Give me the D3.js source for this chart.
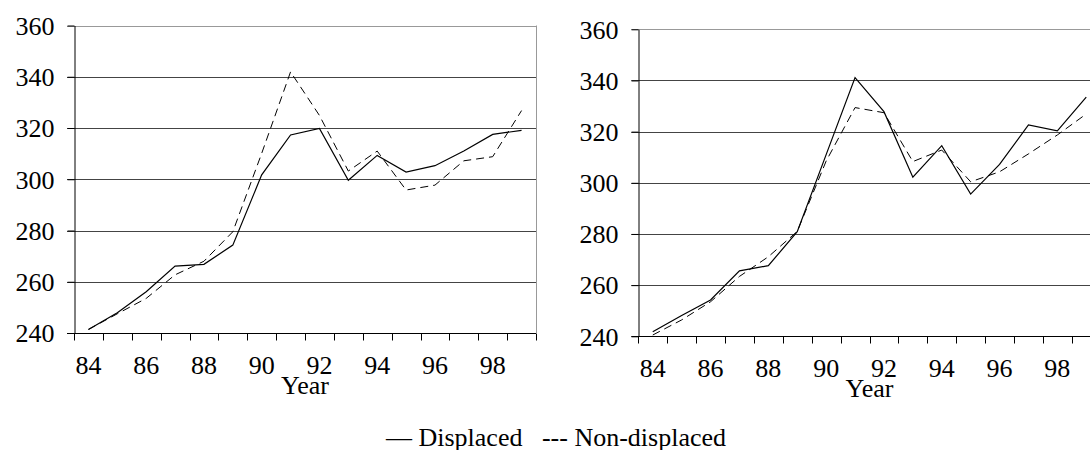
<!DOCTYPE html>
<html>
<head>
<meta charset="utf-8">
<script src="https://cdn.jsdelivr.net/npm/d3@7"></script>
<style>
  html, body { margin: 0; padding: 0; background: #fff; }
  svg { display: block; }
  svg text { font-family: "Liberation Serif", "Times New Roman", Times, "DejaVu Serif", serif; }
</style>
</head>
<body>
<svg id="chart" width="1090" height="450"></svg>
<script>
const years = ["84", "85", "86", "87", "88", "89", "90", "91", "92", "93", "94", "95", "96", "97", "98", "99"];
const yearLabels = ["84", "86", "88", "90", "92", "94", "96", "98"];
const yTicks = [240, 260, 280, 300, 320, 340, 360];

const leftDisplaced = [241.4, 247.9, 256.1, 266.1, 266.8, 274.3, 301.7, 317.3, 319.8, 299.6, 309.3, 302.8, 305.3, 311.0, 317.5, 319.1];
const leftNonDisplaced = [241.4, 247.5, 253.5, 262.7, 268.0, 279.5, 310.1, 341.9, 324.9, 303.2, 311.0, 295.8, 297.7, 307.2, 308.8, 326.8];
const rightDisplaced = [241.8, 248.1, 254.2, 265.6, 267.6, 280.9, 311.0, 341.1, 327.8, 302.2, 314.5, 295.6, 307.2, 322.6, 320.3, 333.5];
const rightNonDisplaced = [240.5, 246.4, 253.5, 263.4, 271.1, 281.0, 308.5, 329.4, 327.4, 308.3, 312.8, 300.4, 304.3, 311.3, 318.7, 326.9];

const fontSize = 26;
const serif = "'Liberation Serif', 'Times New Roman', Times, serif";
const svg = d3.select("#chart").attr("font-family", serif);

const panels = [
  { left: 74, right: 536, top: 25.5, bottom: 333, displaced: leftDisplaced, nonDisplaced: leftNonDisplaced },
  { left: 638.3, right: 1100.7, top: 29.3, bottom: 336.3, displaced: rightDisplaced, nonDisplaced: rightNonDisplaced },
];

panels.forEach(p => {
  const x = d3.scaleBand().domain(years).range([p.left, p.right]);
  const y = d3.scaleLinear().domain([240, 360]).range([p.bottom, p.top]);
  const g = svg.append("g");

  // grid lines
  g.selectAll(".grid")
    .data(yTicks.filter(t => t > 240))
    .enter()
    .append("line")
    .attr("x1", p.left - 7)
    .attr("x2", p.right)
    .attr("y1", d => Math.round(y(d)) + 0.5)
    .attr("y2", d => Math.round(y(d)) + 0.5)
    .attr("stroke", d => d === 360 ? "#999" : "#444")
    .attr("stroke-width", 1);

  // right border
  g.append("line")
    .attr("x1", Math.round(p.right) + 0.5)
    .attr("x2", Math.round(p.right) + 0.5)
    .attr("y1", y(360))
    .attr("y2", y(240))
    .attr("stroke", "#999");

  // y axis
  const yAxis = g.append("g")
    .attr("transform", `translate(${Math.round(p.left) + 0.5},0)`)
    .call(d3.axisLeft(y).tickValues(yTicks).tickSize(7).tickPadding(13).tickSizeOuter(0));
  yAxis.attr("font-family", serif);
  yAxis.select(".domain").attr("stroke", "#000");
  yAxis.selectAll(".tick line").attr("stroke", "#000");
  yAxis.selectAll(".tick text")
    .attr("fill", "#000")
    .attr("font-size", fontSize)
    .attr("dy", "0.34em");

  // x axis baseline and boundary ticks
  const baseY = Math.round(y(240)) + 0.5;
  g.append("line")
    .attr("x1", p.left - 7)
    .attr("x2", p.right)
    .attr("y1", baseY)
    .attr("y2", baseY)
    .attr("stroke", "#000");

  const bounds = years.map(d => x(d)).concat([x(years[years.length - 1]) + x.bandwidth()]);
  g.selectAll(".xtick")
    .data(bounds)
    .enter()
    .append("line")
    .attr("x1", d => Math.round(d) + 0.5)
    .attr("x2", d => Math.round(d) + 0.5)
    .attr("y1", baseY)
    .attr("y2", baseY + 7)
    .attr("stroke", "#000");

  g.selectAll(".xlabel")
    .data(yearLabels)
    .enter()
    .append("text")
    .attr("x", d => x(d) + x.bandwidth() / 2)
    .attr("y", baseY + 40)
    .attr("text-anchor", "middle")
    .attr("font-size", fontSize)
    .text(d => d);

  g.append("text")
    .attr("x", (p.left + p.right) / 2)
    .attr("y", baseY + 60)
    .attr("text-anchor", "middle")
    .attr("font-size", fontSize)
    .text("Year");

  const line = d3.line()
    .x((d, i) => x(years[i]) + x.bandwidth() / 2)
    .y(d => y(d));

  g.append("path")
    .datum(p.nonDisplaced)
    .attr("d", line)
    .attr("fill", "none")
    .attr("stroke", "#000")
    .attr("stroke-width", 1)
    .attr("stroke-dasharray", "8,5");

  g.append("path")
    .datum(p.displaced)
    .attr("d", line)
    .attr("fill", "none")
    .attr("stroke", "#000")
    .attr("stroke-width", 1.2);
});

svg.append("text")
  .attr("x", 556)
  .attr("y", 446)
  .attr("text-anchor", "middle")
  .attr("font-size", fontSize)
  .attr("xml:space", "preserve")
  .style("white-space", "pre")
  .text("\u2014 Displaced   --- Non-displaced");
</script>
</body>
</html>
